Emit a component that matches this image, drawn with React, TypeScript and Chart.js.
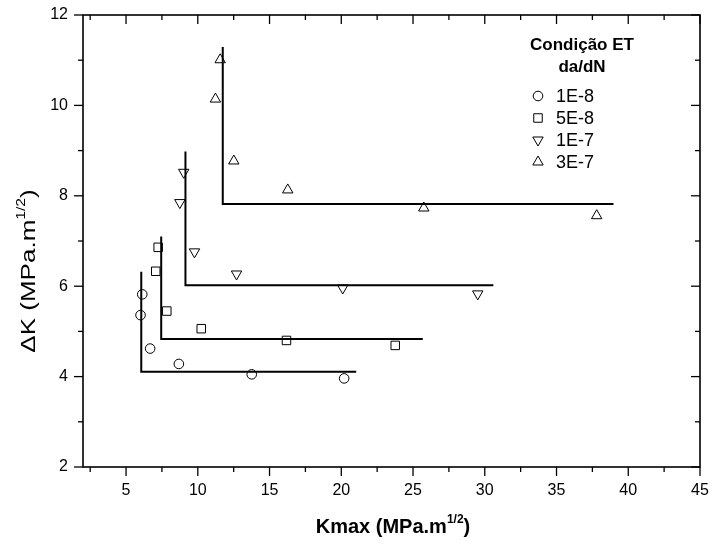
import { useEffect, useRef } from "react";
import { Chart, registerables } from "chart.js";

Chart.register(...registerables);

// ---- data ----
const seriesNames = ["1E-8", "5E-8", "1E-7", "3E-7"];

const kmax1E8 = [6.13, 6.01, 6.68, 8.68, 13.76, 20.2];
const dk1E8 = [5.82, 5.36, 4.62, 4.28, 4.05, 3.96];

const kmax5E8 = [7.24, 7.07, 7.84, 10.24, 16.18, 23.76];
const dk5E8 = [6.86, 6.33, 5.45, 5.06, 4.8, 4.69];

const kmax1E7 = [9.02, 8.75, 9.77, 12.7, 20.1, 29.51];
const dk1E7 = [8.52, 7.85, 6.76, 6.27, 5.96, 5.83];

const kmax3E7 = [11.56, 11.23, 12.51, 16.27, 25.75, 37.8];
const dk3E7 = [11.01, 10.14, 8.77, 8.13, 7.73, 7.56];

// L-shaped threshold lines: vertical at Kmax*, horizontal at ΔK*
const lineKmax = [6.06, 7.45, 9.14, 11.74];
const lineTopDK = [6.32, 7.1, 8.98, 11.29];
const lineDK = [4.11, 4.83, 6.02, 7.82];
const lineEndKmax = [21.04, 25.68, 30.6, 38.97];

const xMajorTicks = [5, 10, 15, 20, 25, 30, 35, 40, 45];
const xMinorTicks = [2.5, 7.5, 12.5, 17.5, 22.5, 27.5, 32.5, 37.5, 42.5];
const yMajorTicks = [2, 4, 6, 8, 10, 12];
const yMinorTicks = [3, 5, 7, 9, 11];

const xTitle = "Kmax (MPa.m";
const yTitle = "ΔK (MPa.m";
const sup = "1/2";
const legendTitle1 = "Condição ET";
const legendTitle2 = "da/dN";

const FONT = "'Liberation Sans', Arial, sans-serif";

const styles = [
  { pointStyle: "circle", radius: 4.8, rotation: 0 },
  { pointStyle: "rect", radius: 6, rotation: 0 },
  { pointStyle: "triangle", radius: 6, rotation: 180 },
  { pointStyle: "triangle", radius: 6, rotation: 0 },
];

const pts = (xs: number[], ys: number[]) => xs.map((x, i) => ({ x, y: ys[i] }));

function drawSymbol(ctx: CanvasRenderingContext2D, kind: number, x: number, y: number) {
  const s = styles[kind];
  const r = s.radius;
  ctx.beginPath();
  if (s.pointStyle === "circle") {
    ctx.arc(x, y, r, 0, Math.PI * 2);
  } else if (s.pointStyle === "rect") {
    const h = Math.SQRT1_2 * r;
    ctx.rect(x - h, y - h, 2 * h, 2 * h);
  } else {
    let rad = (s.rotation * Math.PI) / 180;
    ctx.moveTo(x + Math.sin(rad) * r, y - Math.cos(rad) * r);
    rad += (2 * Math.PI) / 3;
    ctx.lineTo(x + Math.sin(rad) * r, y - Math.cos(rad) * r);
    rad += (2 * Math.PI) / 3;
    ctx.lineTo(x + Math.sin(rad) * r, y - Math.cos(rad) * r);
    ctx.closePath();
  }
  ctx.stroke();
}

const framePlugin = {
  id: "frame",
  afterDraw(chart: any) {
    const { ctx, chartArea: a, scales } = chart;
    const x = scales.x;
    const y = scales.y;
    ctx.save();
    ctx.strokeStyle = "#000";
    ctx.lineWidth = 1.6;
    ctx.strokeRect(a.left, a.top, a.right - a.left, a.bottom - a.top);
    const seg = (x1: number, y1: number, x2: number, y2: number) => {
      ctx.beginPath();
      ctx.moveTo(x1, y1);
      ctx.lineTo(x2, y2);
      ctx.stroke();
    };
    ctx.lineWidth = 1.3;
    const MAJ = 9;
    const MIN = 5;
    xMajorTicks.forEach((v) => {
      const p = x.getPixelForValue(v);
      seg(p, a.bottom, p, a.bottom + MAJ);
      seg(p, a.top, p, a.top + MAJ);
    });
    xMinorTicks.forEach((v) => {
      const p = x.getPixelForValue(v);
      seg(p, a.bottom, p, a.bottom + MIN);
      seg(p, a.top, p, a.top + MIN);
    });
    yMajorTicks.forEach((v) => {
      const p = y.getPixelForValue(v);
      seg(a.left - MAJ, p, a.left, p);
      seg(a.right - MAJ, p, a.right, p);
    });
    yMinorTicks.forEach((v) => {
      const p = y.getPixelForValue(v);
      seg(a.left - MIN, p, a.left, p);
      seg(a.right - MIN, p, a.right, p);
    });

    // axis titles with superscript
    ctx.fillStyle = "#000";
    ctx.textBaseline = "alphabetic";
    // x title
    ctx.font = `bold 20px ${FONT}`;
    const w1 = ctx.measureText(xTitle).width;
    ctx.font = `bold 12px ${FONT}`;
    const w2 = ctx.measureText(sup).width;
    ctx.font = `bold 20px ${FONT}`;
    const w3 = ctx.measureText(")").width;
    const cx = 393;
    const sx = cx - (w1 + w2 + w3) / 2;
    const by = 533;
    ctx.textAlign = "left";
    ctx.fillText(xTitle, sx, by);
    ctx.font = `bold 12px ${FONT}`;
    ctx.fillText(sup, sx + w1, by - 10);
    ctx.font = `bold 20px ${FONT}`;
    ctx.fillText(")", sx + w1 + w2, by);

    // y title rotated (stretched along its length like the reference)
    ctx.save();
    ctx.translate(35, 271);
    ctx.rotate(-Math.PI / 2);
    ctx.scale(1.3, 1);
    ctx.font = `20px ${FONT}`;
    const v1 = ctx.measureText(yTitle).width;
    ctx.font = `12px ${FONT}`;
    const v2 = ctx.measureText(sup).width;
    ctx.font = `20px ${FONT}`;
    const v3 = ctx.measureText(")").width;
    const tx = -(v1 + v2 + v3) / 2;
    ctx.fillText(yTitle, tx, 0);
    ctx.font = `12px ${FONT}`;
    ctx.fillText(sup, tx + v1, -10);
    ctx.font = `20px ${FONT}`;
    ctx.fillText(")", tx + v1 + v2, 0);
    ctx.restore();

    // legend
    const lx = 582;
    ctx.textAlign = "center";
    ctx.textBaseline = "middle";
    ctx.font = `bold 17px ${FONT}`;
    ctx.fillText(legendTitle1, lx, 45);
    ctx.fillText(legendTitle2, lx, 67);
    ctx.font = `18px ${FONT}`;
    ctx.textAlign = "left";
    ctx.lineWidth = 1;
    seriesNames.forEach((n, i) => {
      const yy = 96 + i * 22;
      drawSymbol(ctx, i, 538, yy);
      ctx.fillText(n, 556, yy + 1);
    });
    ctx.restore();
  },
};

export default function App() {
  const ref = useRef<HTMLCanvasElement | null>(null);
  useEffect(() => {
    if (!ref.current) return;
    document.body.style.margin = "0";
    const scatterSets = [
      pts(kmax1E8, dk1E8),
      pts(kmax5E8, dk5E8),
      pts(kmax1E7, dk1E7),
      pts(kmax3E7, dk3E7),
    ].map((data, i) => ({
      type: "scatter" as const,
      label: seriesNames[i],
      data,
      pointStyle: styles[i].pointStyle as any,
      pointRadius: styles[i].radius,
      pointRotation: styles[i].rotation,
      pointBorderColor: "#000",
      pointBackgroundColor: "rgba(0,0,0,0)",
      pointBorderWidth: 1,
      showLine: false,
    }));
    const lineSets = lineKmax.map((kx, i) => ({
      type: "scatter" as const,
      label: "L " + seriesNames[i],
      data: [
        { x: kx, y: lineTopDK[i] },
        { x: kx, y: lineDK[i] },
        { x: lineEndKmax[i], y: lineDK[i] },
      ],
      showLine: true,
      borderColor: "#000",
      borderWidth: 2,
      pointRadius: 0,
      fill: false,
    }));
    const chart = new Chart(ref.current, {
      type: "scatter",
      data: { datasets: [...lineSets, ...scatterSets] as any },
      plugins: [framePlugin],
      options: {
        animation: false,
        responsive: false,
        maintainAspectRatio: false,
        layout: { padding: { top: 15, right: 10, left: 0, bottom: 0 } },
        plugins: { legend: { display: false }, tooltip: { enabled: false } },
        scales: {
          x: {
            type: "linear",
            min: 2,
            max: 45,
            afterBuildTicks: (s: any) => {
              s.ticks = xMajorTicks.map((v) => ({ value: v }));
            },
            afterFit: (s: any) => {
              s.height = 79;
              s.paddingLeft = 0;
              s.paddingRight = 0;
            },
            grid: { display: false, drawTicks: false },
            border: { display: false },
            ticks: {
              color: "#000",
              padding: 14,
              font: { family: FONT, size: 16 },
              maxRotation: 0,
              autoSkip: false,
            },
          },
          y: {
            type: "linear",
            min: 2,
            max: 12,
            afterBuildTicks: (s: any) => {
              s.ticks = yMajorTicks.map((v) => ({ value: v }));
            },
            afterFit: (s: any) => {
              s.width = 83;
              s.paddingTop = 0;
              s.paddingBottom = 0;
            },
            grid: { display: false, drawTicks: false },
            border: { display: false },
            ticks: {
              color: "#000",
              padding: 15,
              font: { family: FONT, size: 16 },
              autoSkip: false,
            },
          },
        },
      },
    });
    return () => chart.destroy();
  }, []);
  return (
    <div style={{ position: "absolute", left: 0, top: 0, width: 710, height: 546, background: "#fff" }}>
      <canvas ref={ref} width={710} height={546} style={{ width: 710, height: 546 }} />
    </div>
  );
}
